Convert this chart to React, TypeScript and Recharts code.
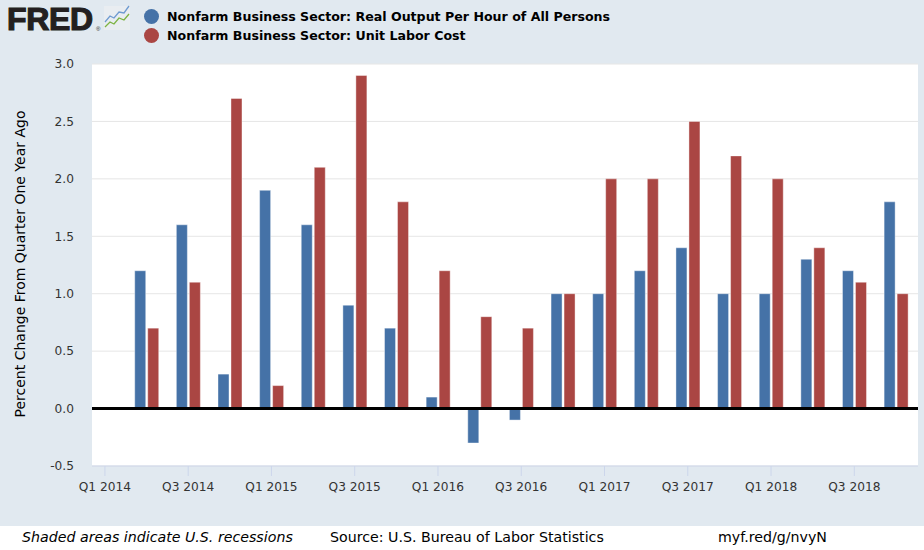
import { Bar, BarChart, CartesianGrid, ReferenceLine, XAxis, YAxis } from 'recharts'

document.body.style.margin = '0'

// quarters with data (Q1 2014 has no bar in the reference)
const quarters = [
  '2014Q2', '2014Q3', '2014Q4',
  '2015Q1', '2015Q2', '2015Q3', '2015Q4',
  '2016Q1', '2016Q2', '2016Q3', '2016Q4',
  '2017Q1', '2017Q2', '2017Q3', '2017Q4',
  '2018Q1', '2018Q2', '2018Q3', '2018Q4',
]
const outputPerHour = [1.2, 1.6, 0.3, 1.9, 1.6, 0.9, 0.7, 0.1, -0.3, -0.1, 1.0, 1.0, 1.2, 1.4, 1.0, 1.0, 1.3, 1.2, 1.8]
const unitLaborCost = [0.7, 1.1, 2.7, 0.2, 2.1, 2.9, 1.8, 1.2, 0.8, 0.7, 1.0, 2.0, 2.0, 2.5, 2.2, 2.0, 1.4, 1.1, 1.0]

const xTickLabels = ['Q1 2014', 'Q3 2014', 'Q1 2015', 'Q3 2015', 'Q1 2016', 'Q3 2016', 'Q1 2017', 'Q3 2017', 'Q1 2018', 'Q3 2018']
const yTicks = [-0.5, 0, 0.5, 1.0, 1.5, 2.0, 2.5, 3.0]

const BLUE = '#4572A7'
const RED = '#AA4643'

const quarterIndex = (q: string) => (Number(q.slice(0, 4)) - 2014) * 4 + Number(q.slice(5)) - 1

const data = quarters.map((q, i) => ({
  x: quarterIndex(q),
  output: outputPerHour[i],
  ulc: unitLaborCost[i],
}))

const xTicks = xTickLabels.map((l) => quarterIndex(l.slice(3) + 'Q' + l.slice(1, 2)))

const tickStyle = { fontSize: 12.2, fill: '#333', fontFamily: 'DejaVu Sans' }

const FredLogo = () => (
  <svg width={134} height={36} style={{ position: 'absolute', left: 0, top: 0 }}>
    <text
      x={7}
      y={30}
      fontFamily="Liberation Sans"
      fontWeight="bold"
      fontSize={32}
      letterSpacing={-0.3}
      fill="#231f20"
      stroke="#231f20"
      strokeWidth={1.2}
    >
      FRED
    </text>
    <text x={96} y={31} fontFamily="Liberation Sans" fontSize={6} fill="#231f20">
      ®
    </text>
    <rect x={104} y={6} width={26} height={24} fill="#e9edf1" />
    <polyline points="105,22 110,16 114,18 119,12 124,13 129,6" fill="none" stroke="#6f9bd1" strokeWidth={1.3} />
    <polyline points="105,27 110,22 114,24 119,18 124,20 129,14" fill="none" stroke="#7cb342" strokeWidth={1.3} />
  </svg>
)

const LegendItem = ({ color, text, top }: { color: string; text: string; top: number }) => (
  <div style={{ position: 'absolute', left: 144, top, display: 'flex', alignItems: 'center' }}>
    <span style={{ width: 15, height: 15, borderRadius: '50%', background: color, display: 'inline-block' }} />
    <span style={{ marginLeft: 8, fontWeight: 'bold', fontSize: 12.6, color: '#000' }}>{text}</span>
  </div>
)

export default function App() {
  return (
    <div style={{ position: 'relative', width: 924, height: 550, background: '#E1E9F0', fontFamily: 'DejaVu Sans', overflow: 'hidden' }}>
      <FredLogo />
      <LegendItem color={BLUE} text="Nonfarm Business Sector: Real Output Per Hour of All Persons" top={9} />
      <LegendItem color={RED} text="Nonfarm Business Sector: Unit Labor Cost" top={28} />

      <div
        style={{
          position: 'absolute',
          left: 20,
          top: 264,
          transform: 'translate(-50%, -50%) rotate(-90deg)',
          whiteSpace: 'nowrap',
          fontSize: 14,
          color: '#000',
        }}
      >
        Percent Change From Quarter One Year Ago
      </div>

      <div style={{ position: 'absolute', left: 0, top: 0 }}>
        <BarChart width={924} height={526} data={data} margin={{ top: 64, right: 6, bottom: 30, left: 0 }} barSize={11} barGap={2}>
          <CartesianGrid vertical={false} stroke="#e6e6e6" fill="#ffffff" />
          <XAxis
            dataKey="x"
            type="number"
            domain={[-0.31, 19.53]}
            ticks={xTicks}
            tickFormatter={(v: number) => xTickLabels[xTicks.indexOf(v)] ?? ''}
            allowDataOverflow
            height={30}
            tick={tickStyle}
            tickSize={10}
            tickMargin={6}
            stroke="#ccd6eb"
            axisLine={{ stroke: '#ccd6eb' }}
            tickLine={{ stroke: '#ccd6eb' }}
          />
          <YAxis
            width={92}
            domain={[-0.5, 3]}
            ticks={yTicks}
            tickFormatter={(v: number) => v.toFixed(1)}
            axisLine={false}
            tickLine={false}
            tickSize={8}
            tickMargin={10}
            tick={tickStyle}
            allowDataOverflow
          />
          <ReferenceLine y={0} stroke="#000" strokeWidth={3} />
          <Bar dataKey="output" fill={BLUE} stroke="#ffffff" strokeOpacity={0.4} isAnimationActive={false} />
          <Bar dataKey="ulc" fill={RED} stroke="#ffffff" strokeOpacity={0.4} isAnimationActive={false} />
        </BarChart>
      </div>

      <div style={{ position: 'absolute', left: 0, top: 526, width: 924, height: 24, background: '#fff', fontSize: 14.2, color: '#000' }}>
        <span style={{ position: 'absolute', left: 22, top: 3, fontStyle: 'italic' }}>Shaded areas indicate U.S. recessions</span>
        <span style={{ position: 'absolute', left: 330, top: 3 }}>Source: U.S. Bureau of Labor Statistics</span>
        <span style={{ position: 'absolute', left: 718, top: 3 }}>myf.red/g/nvyN</span>
      </div>
    </div>
  )
}
